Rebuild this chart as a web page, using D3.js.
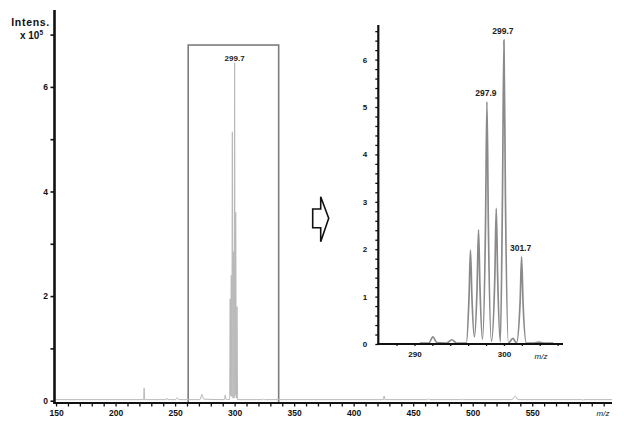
<!DOCTYPE html>
<html><head><meta charset="utf-8">
<script src="https://cdn.jsdelivr.net/npm/d3@7"></script>
<style>
body{margin:0;background:#fff}
svg{display:block;background:#fff}
text{font-family:"Liberation Sans",Arial,Helvetica,sans-serif;font-weight:bold;fill:#111}
</style>
</head><body>
<svg id="c" width="624" height="427"></svg>
<script>
// ---------- DATA ----------
// Full-range spectrum (m/z, intensity in units of 10^5)
const mainMz  = [148.7, 223.6, 224.0, 224.4, 242.5, 243.2, 244.0, 250.5, 251.7, 253.0,
                 271.0, 272.5, 274.0, 291.5, 292.1, 292.7,
                 295.8, 296.3, 296.7, 297.2, 297.6, 298.1, 298.6, 299.1, 299.6, 300.0,
                 300.45, 300.9, 301.45, 302.0, 302.5,
                 323.5, 324.2, 325.0, 424.9, 425.6, 426.3, 462.0, 462.9, 463.8,
                 490.0, 491.0, 492.0, 533.0, 535.7, 538.0, 592.0, 592.6, 593.4, 617.0];
const mainInt = [0.02, 0.02, 0.24, 0.02, 0.02, 0.05, 0.02, 0.02, 0.06, 0.02,
                 0.02, 0.12, 0.03, 0.02, 0.11, 0.03,
                 0.02, 1.95, 0.10, 2.40, 0.08, 5.14, 0.05, 2.85, 0.05, 6.46,
                 0.10, 3.60, 0.05, 1.80, 0.02,
                 0.02, 0.03, 0.02, 0.02, 0.09, 0.02, 0.02, 0.04, 0.02,
                 0.02, 0.03, 0.02, 0.02, 0.09, 0.02, 0.02, 0.01, 0.02, 0.02];

// Zoomed (inset) profile spectrum
const insetMz  = [290.6, 291.6, 292.06, 292.5, 293.6, 294.18, 294.7, 295.8,
                  296.1, 296.26, 296.42, 296.7,
                  297.0, 297.16, 297.32, 297.6,
                  297.94, 298.1, 298.26, 298.6,
                  298.98, 299.14, 299.30, 299.6,
                  299.84, 300.0, 300.16, 300.5,
                  301.0, 301.4, 301.81, 301.97, 302.13, 302.5,
                  303.4, 303.9, 304.4, 305.5];
const insetInt = [0.02, 0.02, 0.15, 0.03, 0.02, 0.09, 0.02, 0.02,
                  1.00, 1.98, 1.00, 0.15,
                  1.20, 2.41, 1.20, 0.10,
                  2.50, 5.11, 2.50, 0.06,
                  1.40, 2.86, 1.40, 0.05,
                  3.20, 6.41, 3.20, 0.02,
                  0.12, 0.02, 0.90, 1.84, 0.90, 0.02,
                  0.02, 0.04, 0.02, 0.02];

// Peak annotations
const insetPeakLabels = ["297.9", "299.7", "301.7"];
const insetPeakMz     = [298.1, 300.0, 301.97];
const insetPeakInt    = [5.11, 6.41, 1.84];
const mainPeakLabels  = ["299.7"];
const mainPeakMz      = [300.0];
const mainPeakInt     = [6.46];

// Zoom window on the full spectrum (m/z range, top intensity)
const zoomWindowMz  = [261, 337];
const zoomWindowTop = 6.8;

// Axis ticks
const mainXTicks   = d3.range(150, 611, 10);
const mainXLabels  = [150, 200, 250, 300, 350, 400, 450, 500, 550];
const mainYTicks   = [0, 1, 2, 3, 4, 5, 6, 7];
const mainYLabels  = [0, 2, 4, 6];
const insetXTicks  = d3.range(288, 307, 2);
const insetXLabels = [290, 300];
const insetYTicks  = d3.range(0, 34).map(i => i / 5);
const insetYLabels = [0, 1, 2, 3, 4, 5, 6];

const yTitle = "Intens.";
const yUnit = "x 10";
const yUnitExp = "5";
const xTitle = "m/z";

// ---------- SCALES ----------
const svg = d3.select("#c");
const xMain = d3.scaleLinear().domain([148.7, 617]).range([54.5, 612]);
const yMain = d3.scaleLinear().domain([0, 7.47]).range([400.7, 10]);
const xAxisMainY = 403;

const xIn = d3.scaleLinear().domain([285.96, 306.6]).range([378.3, 563]);
const yIn = d3.scaleLinear().domain([0, 6.73]).range([344, 25]);

// ---------- MAIN CHART ----------
svg.append("rect")
  .attr("x", xMain(zoomWindowMz[0]))
  .attr("y", yMain(zoomWindowTop))
  .attr("width", xMain(zoomWindowMz[1]) - xMain(zoomWindowMz[0]))
  .attr("height", xAxisMainY - yMain(zoomWindowTop))
  .attr("fill", "none").attr("stroke", "#7c7c7c").attr("stroke-width", 1.6);

const mainLine = d3.line()
  .x(i => xMain(mainMz[i])).y(i => yMain(mainInt[i]))
  .curve(d3.curveMonotoneX);
svg.append("path")
  .attr("d", mainLine(d3.range(mainMz.length)))
  .attr("fill", "none").attr("stroke", "#b8b8b8").attr("stroke-width", 1);

svg.selectAll(".mpl").data(mainPeakLabels).join("text")
  .attr("x", (d, i) => xMain(mainPeakMz[i]))
  .attr("y", (d, i) => yMain(mainPeakInt[i]) - 1.5)
  .attr("text-anchor", "middle").style("font-size", "8px").style("fill", "#222")
  .text(d => d);

const gyM = svg.append("g").attr("transform", `translate(${xMain.range()[0]},0)`)
  .call(d3.axisLeft(yMain).tickValues(mainYTicks).tickSize(4).tickSizeOuter(0).tickPadding(2.5)
    .tickFormat(d => mainYLabels.includes(d) ? d : ""));
gyM.select(".domain").remove();
gyM.selectAll(".tick line").attr("stroke", "#111").attr("stroke-width", 1.6);
gyM.selectAll(".tick text").style("font-size", "8.5px").style("font-family", null);

const gxM = svg.append("g").attr("transform", `translate(0,${xAxisMainY})`)
  .call(d3.axisBottom(xMain).tickValues(mainXTicks).tickSize(3.5).tickSizeOuter(0).tickPadding(3.5)
    .tickFormat(d => mainXLabels.includes(d) ? d : ""));
gxM.select(".domain").remove();
gxM.selectAll(".tick line").attr("stroke", "#111").attr("stroke-width", 1.3);
gxM.selectAll(".tick text").style("font-size", "8.5px").style("font-family", null);

svg.append("line")
  .attr("x1", xMain.range()[0]).attr("x2", xMain.range()[0])
  .attr("y1", yMain.range()[1]).attr("y2", xAxisMainY + 1)
  .attr("stroke", "#111").attr("stroke-width", 2.6);
svg.append("line")
  .attr("x1", xMain.range()[0] - 1).attr("x2", xMain.range()[1])
  .attr("y1", xAxisMainY).attr("y2", xAxisMainY)
  .attr("stroke", "#111").attr("stroke-width", 2.2);

svg.append("text").attr("x", 50).attr("y", 26).attr("text-anchor", "end")
  .style("font-size", "10.5px").style("letter-spacing", "0.7px").text(yTitle);
const unit = svg.append("text").attr("x", 43).attr("y", 38.5).attr("text-anchor", "end")
  .style("font-size", "10px");
unit.append("tspan").text(yUnit);
unit.append("tspan").attr("dy", -4).style("font-size", "6.5px").text(yUnitExp);

svg.append("text").attr("x", 603).attr("y", 415.5).attr("text-anchor", "middle")
  .style("font-size", "8px").style("font-style", "italic").style("font-weight", "normal").text(xTitle);

// ---------- ARROW ----------
const arrowPts = [[0,0],[8,0],[8,-12.3],[16,9.3],[8,32.7],[8,18.7],[0,18.7]];
svg.append("path")
  .attr("transform", "translate(312.7,209)")
  .attr("d", d3.line()(arrowPts) + "Z")
  .attr("fill", "#fff").attr("stroke", "#111").attr("stroke-width", 1.6)
  .attr("stroke-linejoin", "miter");

// ---------- INSET ----------
const inLine = d3.line()
  .x(i => xIn(insetMz[i])).y(i => yIn(insetInt[i]))
  .curve(d3.curveMonotoneX);
svg.append("path")
  .attr("d", inLine(d3.range(insetMz.length)))
  .attr("fill", "none").attr("stroke", "#8a8a8a").attr("stroke-width", 1.7);

svg.selectAll(".ipl").data(insetPeakLabels).join("text")
  .attr("x", (d, i) => xIn(insetPeakMz[i]) - 1)
  .attr("y", (d, i) => yIn(insetPeakInt[i]) - 6)
  .attr("text-anchor", "middle").style("font-size", "8.5px").style("fill", "#222")
  .text(d => d);

const gyI = svg.append("g").attr("transform", `translate(${xIn.range()[0]},0)`)
  .call(d3.axisLeft(yIn).tickValues(insetYTicks).tickSize(3).tickSizeOuter(0).tickPadding(8)
    .tickFormat(d => insetYLabels.includes(d) ? d : ""));
gyI.select(".domain").remove();
gyI.selectAll(".tick line").attr("stroke", "#111").attr("stroke-width", 1.3);
gyI.selectAll(".tick text").style("font-size", "8px").style("font-family", null);

const gxI = svg.append("g").attr("transform", `translate(0,${yIn(0)})`)
  .call(d3.axisBottom(xIn).tickValues(insetXTicks).tickSize(2).tickSizeOuter(0).tickPadding(5)
    .tickFormat(d => insetXLabels.includes(d) ? d : ""));
gxI.select(".domain").remove();
gxI.selectAll(".tick line").attr("stroke", "#111").attr("stroke-width", 1.3);
gxI.selectAll(".tick text").style("font-size", "8px").style("font-family", null);

svg.append("line")
  .attr("x1", xIn.range()[0]).attr("x2", xIn.range()[0])
  .attr("y1", yIn.range()[1]).attr("y2", yIn(0) + 1)
  .attr("stroke", "#111").attr("stroke-width", 2.2);
svg.append("line")
  .attr("x1", xIn.range()[0] - 1).attr("x2", xIn.range()[1])
  .attr("y1", yIn(0)).attr("y2", yIn(0))
  .attr("stroke", "#111").attr("stroke-width", 2);

svg.append("text").attr("x", 541).attr("y", 358.5).attr("text-anchor", "middle")
  .style("font-size", "8px").style("font-style", "italic").style("font-weight", "normal").text(xTitle);
</script>
</body></html>
